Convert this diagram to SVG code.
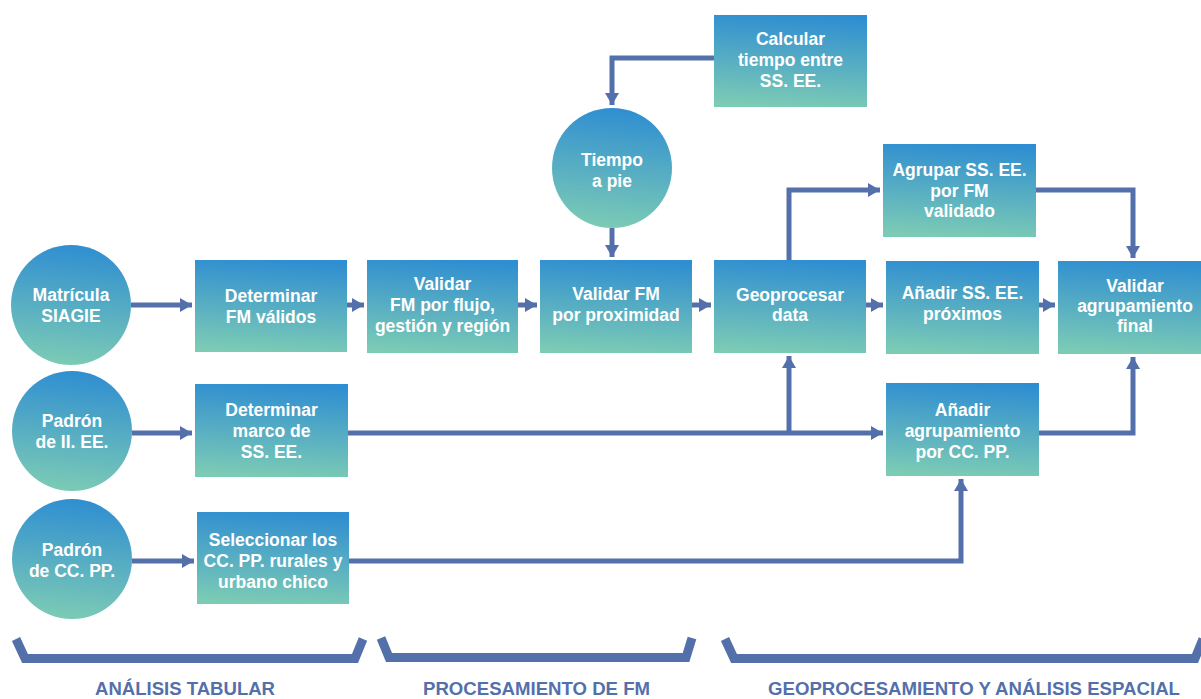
<svg xmlns="http://www.w3.org/2000/svg" width="1201" height="699" viewBox="0 0 1201 699">
<defs>
<linearGradient id="g" x1="0.45" y1="1" x2="0.55" y2="0">
<stop offset="0" stop-color="#7ccbb5"/>
<stop offset="1" stop-color="#2f8ed1"/>
</linearGradient>
<marker id="ah" markerUnits="userSpaceOnUse" markerWidth="12" markerHeight="14" refX="12" refY="7" orient="auto">
<path d="M0,0 L12,7 L0,14 z" fill="#5470ab"/>
</marker>
<style>
.n{fill:url(#g);}
.t{font-family:"Liberation Sans",Arial,sans-serif;font-weight:bold;font-size:17.5px;fill:#ffffff;text-anchor:middle;}
.c{fill:none;stroke:#5470ab;stroke-width:5;stroke-linejoin:miter;}
.a{marker-end:url(#ah);}
.b{fill:none;stroke:#5470ab;stroke-width:9;stroke-linejoin:miter;}
.l{font-family:"Liberation Sans",Arial,sans-serif;font-weight:bold;font-size:18px;fill:#5470ab;text-anchor:middle;}
</style>
</defs>
<rect width="1201" height="699" fill="#ffffff"/>

<g id="connectors">
<path class="c a" d="M131,305 L192,305"/>
<path class="c a" d="M347,305 L364,305"/>
<path class="c a" d="M518,305 L537,305"/>
<path class="c a" d="M692,305 L711,305"/>
<path class="c a" d="M866,305 L883,305"/>
<path class="c a" d="M1039,305 L1055,305"/>
<path class="c a" d="M714,58 L612,58 L612,105"/>
<path class="c a" d="M612,228 L612,257"/>
<path class="c a" d="M789,260 L789,190 L880,190"/>
<path class="c a" d="M1036,190 L1133,190 L1133,258"/>
<path class="c a" d="M132,433 L192,433"/>
<path class="c a" d="M348,433 L883,433"/>
<path class="c a" d="M789,433 L789,356"/>
<path class="c a" d="M1039,433 L1133,433 L1133,357"/>
<path class="c a" d="M132,561 L194,561"/>
<path class="c a" d="M349,561 L961,561 L961,479"/>
</g>

<g id="calcular"><rect class="n" x="714" y="15" width="153" height="92"/>
<text class="t" x="790.5" y="45">Calcular</text><text class="t" x="790.5" y="66">tiempo entre</text><text class="t" x="790.5" y="87">SS. EE.</text></g>

<g id="tiempo"><circle class="n" cx="612" cy="168" r="60"/>
<text class="t" x="612" y="166">Tiempo</text><text class="t" x="612" y="187">a pie</text></g>

<g id="matricula"><circle class="n" cx="71" cy="305" r="60"/>
<text class="t" x="71" y="301">Matrícula</text><text class="t" x="71" y="322">SIAGIE</text></g>

<g id="padron-ie"><circle class="n" cx="72" cy="431" r="60"/>
<text class="t" x="72" y="427">Padrón</text><text class="t" x="72" y="448">de II. EE.</text></g>

<g id="padron-cp"><circle class="n" cx="72" cy="559" r="60"/>
<text class="t" x="72" y="556">Padrón</text><text class="t" x="72" y="577">de CC. PP.</text></g>

<g id="determinar-fm"><rect class="n" x="195" y="260" width="152" height="92"/>
<text class="t" x="271" y="302">Determinar</text><text class="t" x="271" y="323">FM válidos</text></g>

<g id="determinar-marco"><rect class="n" x="195" y="384" width="153" height="93"/>
<text class="t" x="271.5" y="416">Determinar</text><text class="t" x="271.5" y="437">marco de</text><text class="t" x="271.5" y="458">SS. EE.</text></g>

<g id="seleccionar"><rect class="n" x="197" y="512" width="152" height="92"/>
<text class="t" x="273" y="546">Seleccionar los</text><text class="t" x="273" y="567">CC. PP. rurales y</text><text class="t" x="273" y="588">urbano chico</text></g>

<g id="validar-flujo"><rect class="n" x="367" y="260" width="151" height="93"/>
<text class="t" x="442.5" y="290">Validar</text><text class="t" x="442.5" y="311">FM por flujo,</text><text class="t" x="442.5" y="332">gestión y región</text></g>

<g id="validar-prox"><rect class="n" x="540" y="260" width="152" height="93"/>
<text class="t" x="616" y="300">Validar FM</text><text class="t" x="616" y="321">por proximidad</text></g>

<g id="geoprocesar"><rect class="n" x="714" y="260" width="152" height="93"/>
<text class="t" x="790" y="301">Geoprocesar</text><text class="t" x="790" y="321">data</text></g>

<g id="agrupar"><rect class="n" x="883" y="144" width="153" height="93"/>
<text class="t" x="959.5" y="176">Agrupar SS. EE.</text><text class="t" x="959.5" y="197">por FM</text><text class="t" x="959.5" y="217">validado</text></g>

<g id="anadir-proximos"><rect class="n" x="886" y="261" width="153" height="93"/>
<text class="t" x="962.5" y="299">Añadir SS. EE.</text><text class="t" x="962.5" y="320">próximos</text></g>

<g id="validar-final"><rect class="n" x="1058" y="261" width="154" height="93"/>
<text class="t" x="1135" y="292">Validar</text><text class="t" x="1135" y="312">agrupamiento</text><text class="t" x="1135" y="332">final</text></g>

<g id="anadir-agrup"><rect class="n" x="886" y="383" width="153" height="93"/>
<text class="t" x="962.5" y="416">Añadir</text><text class="t" x="962.5" y="437">agrupamiento</text><text class="t" x="962.5" y="458">por CC. PP.</text></g>

<g id="brackets">
<polyline class="b" points="16,639 25,658.5 355,658.5 363,639"/>
<polyline class="b" points="381,638 389,657.5 686,657.5 692,638"/>
<polyline class="b" points="725,639 734,658.5 1195,658.5 1203,639"/>
<text class="l" x="185" y="695" textLength="180" lengthAdjust="spacingAndGlyphs">ANÁLISIS TABULAR</text>
<text class="l" x="536.5" y="695" textLength="227" lengthAdjust="spacingAndGlyphs">PROCESAMIENTO DE FM</text>
<text class="l" x="974" y="695" textLength="412" lengthAdjust="spacingAndGlyphs">GEOPROCESAMIENTO Y ANÁLISIS ESPACIAL</text>
</g>
</svg>
